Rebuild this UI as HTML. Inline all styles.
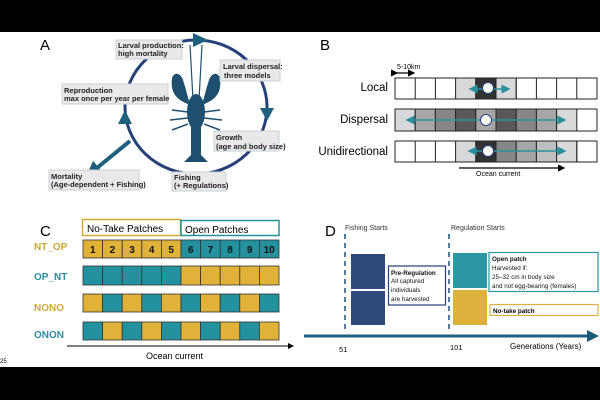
<!DOCTYPE html>
<html><head><meta charset="utf-8"><style>
html,body{margin:0;padding:0;background:#fff}
svg{display:block;font-family:"Liberation Sans",sans-serif}
</style></head><body>
<svg width="600" height="400" viewBox="0 0 600 400" xmlns="http://www.w3.org/2000/svg">
<defs>
<marker id="ah" markerWidth="6" markerHeight="6" refX="5" refY="3" orient="auto"><path d="M0,0 L6,3 L0,6 z" fill="#2a8f9f"/></marker>
<marker id="ak" markerWidth="6" markerHeight="6" refX="5" refY="3" orient="auto"><path d="M0,0 L6,3 L0,6 z" fill="#000"/></marker>
<marker id="am" markerWidth="4" markerHeight="4" refX="2" refY="2" orient="auto"><path d="M0,0 L4,2 L0,4 z" fill="#1d5b78"/></marker>
</defs>
<rect x="0" y="0" width="600" height="32" fill="#000"/>
<rect x="0" y="367" width="600" height="33" fill="#000"/>

<!-- Panel A -->
<text x="40" y="50" font-size="15">A</text>
<ellipse cx="196" cy="107" rx="71" ry="67" fill="none" stroke="#26417a" stroke-width="3"/>
<path d="M193,33 L208,40 L193,47 z" fill="#1f5f7f"/>
<path d="M260,108 L274,108 L267,121 z" fill="#1f5f7f"/>
<path d="M118,124 L132,124 L125,110 z" fill="#1f5f7f"/>
<line x1="130" y1="141" x2="92" y2="172" stroke="#1f5f7f" stroke-width="4" marker-end="url(#am)"/>
<g fill="#1d4f6e" stroke="#1d4f6e">
<path d="M193,100 L190,45 M199,100 L202,45" stroke-width="1.2" fill="none"/>
<ellipse cx="196" cy="112" rx="9" ry="18" stroke="none"/>
<rect x="191" y="125" width="10" height="30" stroke="none"/>
<path d="M184,162 L196,150 L208,162 z" stroke="none"/>
<path d="M190,105 C178,100 170,95 172,78 C174,72 180,72 183,80 L186,90 Z" stroke="none"/>
<path d="M202,105 C214,100 222,95 220,78 C218,72 212,72 209,80 L206,90 Z" stroke="none"/>
<path d="M188,112 L172,110 M188,118 L170,120 M188,124 L172,130 M204,112 L220,110 M204,118 L222,120 M204,124 L220,130" stroke-width="1.5" fill="none"/>
</g>
<g font-size="7.5" font-weight="bold" fill="#222">
<rect x="116" y="40" width="66" height="19" fill="#e9e9e9" stroke="#c9cfd8"/>
<text x="118" y="48">Larval production:</text><text x="118" y="56">high mortality</text>
<rect x="220" y="60" width="60" height="21" fill="#e9e9e9" stroke="#c9cfd8"/>
<text x="223" y="69">Larval dispersal:</text><text x="224" y="78">three models</text>
<rect x="62" y="84" width="106" height="20" fill="#e9e9e9" stroke="#c9cfd8"/>
<text x="64" y="93">Reproduction</text><text x="64" y="101">max once per year per female</text>
<rect x="214" y="131" width="65" height="20" fill="#e9e9e9" stroke="#c9cfd8"/>
<text x="216" y="140">Growth</text><text x="216" y="149">(age and body size)</text>
<rect x="49" y="170" width="90" height="20" fill="#e9e9e9" stroke="#c9cfd8"/>
<text x="51" y="179">Mortality</text><text x="51" y="187">(Age-dependent + Fishing)</text>
<rect x="172" y="172" width="54" height="19" fill="#e9e9e9" stroke="#c9cfd8"/>
<text x="174" y="180">Fishing</text><text x="174" y="188">(+ Regulations)</text>
</g>

<!-- Panel B -->
<text x="320" y="50" font-size="15">B</text>
<text x="397" y="69" font-size="7">5-10km</text>
<line x1="397" y1="73" x2="414" y2="73" stroke="#000" stroke-width="1.2" marker-end="url(#ak)" marker-start="url(#ak)"/>
<g font-size="11.5" text-anchor="end"><text x="388" y="91">Local</text><text x="388" y="123">Dispersal</text><text x="388" y="155">Unidirectional</text></g>
<g stroke="#222" stroke-width="1">
<rect x="395" y="78" width="202" height="21" fill="#fff"/>
<rect x="455.6" y="78" width="20.2" height="21" fill="#d9d9d9"/><rect x="475.8" y="78" width="20.2" height="21" fill="#333"/><rect x="496" y="78" width="20.2" height="21" fill="#d9d9d9"/>
<rect x="395" y="109" width="202" height="22" fill="#fff"/>
<rect x="395" y="109" width="20.2" height="22" fill="#d9d9d9"/><rect x="415.2" y="109" width="20.2" height="22" fill="#a6a6a6"/><rect x="435.4" y="109" width="20.2" height="22" fill="#878787"/><rect x="455.6" y="109" width="20.2" height="22" fill="#595959"/><rect x="475.8" y="109" width="20.2" height="22" fill="#a6a6a6"/><rect x="496" y="109" width="20.2" height="22" fill="#595959"/><rect x="516.2" y="109" width="20.2" height="22" fill="#878787"/><rect x="536.4" y="109" width="20.2" height="22" fill="#a6a6a6"/><rect x="556.6" y="109" width="20.2" height="22" fill="#d9d9d9"/>
<rect x="395" y="141" width="202" height="21" fill="#fff"/>
<rect x="455.6" y="141" width="20.2" height="21" fill="#d9d9d9"/><rect x="475.8" y="141" width="20.2" height="21" fill="#333"/><rect x="496" y="141" width="20.2" height="21" fill="#878787"/><rect x="516.2" y="141" width="20.2" height="21" fill="#a6a6a6"/><rect x="536.4" y="141" width="20.2" height="21" fill="#bfbfbf"/><rect x="556.6" y="141" width="20.2" height="21" fill="#d9d9d9"/>
</g>
<g stroke="#222" stroke-width="1">
<line x1="415.2" y1="78" x2="415.2" y2="99"/><line x1="435.4" y1="78" x2="435.4" y2="99"/><line x1="536.4" y1="78" x2="536.4" y2="99"/><line x1="556.6" y1="78" x2="556.6" y2="99"/><line x1="576.8" y1="78" x2="576.8" y2="99"/><line x1="516.2" y1="78" x2="516.2" y2="99"/>
<line x1="415.2" y1="141" x2="415.2" y2="162"/><line x1="435.4" y1="141" x2="435.4" y2="162"/><line x1="576.8" y1="141" x2="576.8" y2="162"/>
</g>
<g stroke="#2a8f9f" stroke-width="1.5">
<line x1="486" y1="89" x2="470" y2="89" marker-end="url(#ah)"/><line x1="486" y1="89" x2="509" y2="89" marker-end="url(#ah)"/>
<line x1="486" y1="120" x2="407" y2="120" marker-end="url(#ah)"/><line x1="486" y1="120" x2="565" y2="120" marker-end="url(#ah)"/>
<line x1="486" y1="151" x2="469" y2="151" marker-end="url(#ah)"/><line x1="486" y1="151" x2="565" y2="151" marker-end="url(#ah)"/>
</g>
<g fill="#fff" stroke="#26417a" stroke-width="1"><circle cx="488" cy="88" r="5.5"/><circle cx="486" cy="120" r="5.5"/><circle cx="488" cy="151" r="5.5"/></g>
<line x1="459" y1="168" x2="564" y2="168" stroke="#000" stroke-width="1.2" marker-end="url(#ak)"/>
<text x="476" y="176" font-size="7">Ocean current</text>

<!-- Panel C -->
<text x="40" y="236" font-size="15">C</text>
<rect x="82.5" y="219.5" width="98" height="16" fill="#fff" stroke="#d4a935" stroke-width="1.5"/>
<rect x="181" y="220.5" width="98" height="15" fill="#fff" stroke="#2a8f9f" stroke-width="1.5"/>
<text x="87" y="232" font-size="10">No-Take Patches</text>
<text x="185" y="233" font-size="10">Open Patches</text>
<g font-size="10" font-weight="bold">
<text x="34" y="250" fill="#c9a63a">NT_OP</text>
<text x="34" y="280" fill="#2a8f9f">OP_NT</text>
<text x="34" y="311" fill="#d0a93c">NONO</text>
<text x="34" y="338" fill="#2a8f9f">ONON</text>
</g>
<g stroke="#333" stroke-width="0.8">
<rect x="83" y="240" width="19.6" height="18" fill="#e0b23a"/><rect x="102.6" y="240" width="19.6" height="18" fill="#e0b23a"/><rect x="122.2" y="240" width="19.6" height="18" fill="#e0b23a"/><rect x="141.8" y="240" width="19.6" height="18" fill="#e0b23a"/><rect x="161.4" y="240" width="19.6" height="18" fill="#e0b23a"/><rect x="181" y="240" width="19.6" height="18" fill="#24919e"/><rect x="200.6" y="240" width="19.6" height="18" fill="#24919e"/><rect x="220.2" y="240" width="19.6" height="18" fill="#24919e"/><rect x="239.8" y="240" width="19.6" height="18" fill="#24919e"/><rect x="259.4" y="240" width="19.6" height="18" fill="#24919e"/>
<rect x="83" y="266" width="19.6" height="19" fill="#24919e"/><rect x="102.6" y="266" width="19.6" height="19" fill="#24919e"/><rect x="122.2" y="266" width="19.6" height="19" fill="#24919e"/><rect x="141.8" y="266" width="19.6" height="19" fill="#24919e"/><rect x="161.4" y="266" width="19.6" height="19" fill="#24919e"/><rect x="181" y="266" width="19.6" height="19" fill="#e0b23a"/><rect x="200.6" y="266" width="19.6" height="19" fill="#e0b23a"/><rect x="220.2" y="266" width="19.6" height="19" fill="#e0b23a"/><rect x="239.8" y="266" width="19.6" height="19" fill="#e0b23a"/><rect x="259.4" y="266" width="19.6" height="19" fill="#e0b23a"/>
<rect x="83" y="294" width="19.6" height="18" fill="#e0b23a"/><rect x="102.6" y="294" width="19.6" height="18" fill="#24919e"/><rect x="122.2" y="294" width="19.6" height="18" fill="#e0b23a"/><rect x="141.8" y="294" width="19.6" height="18" fill="#24919e"/><rect x="161.4" y="294" width="19.6" height="18" fill="#e0b23a"/><rect x="181" y="294" width="19.6" height="18" fill="#24919e"/><rect x="200.6" y="294" width="19.6" height="18" fill="#e0b23a"/><rect x="220.2" y="294" width="19.6" height="18" fill="#24919e"/><rect x="239.8" y="294" width="19.6" height="18" fill="#e0b23a"/><rect x="259.4" y="294" width="19.6" height="18" fill="#24919e"/>
<rect x="83" y="322" width="19.6" height="18" fill="#24919e"/><rect x="102.6" y="322" width="19.6" height="18" fill="#e0b23a"/><rect x="122.2" y="322" width="19.6" height="18" fill="#24919e"/><rect x="141.8" y="322" width="19.6" height="18" fill="#e0b23a"/><rect x="161.4" y="322" width="19.6" height="18" fill="#24919e"/><rect x="181" y="322" width="19.6" height="18" fill="#e0b23a"/><rect x="200.6" y="322" width="19.6" height="18" fill="#24919e"/><rect x="220.2" y="322" width="19.6" height="18" fill="#e0b23a"/><rect x="239.8" y="322" width="19.6" height="18" fill="#24919e"/><rect x="259.4" y="322" width="19.6" height="18" fill="#e0b23a"/>
</g>
<g font-size="10" font-weight="bold" fill="#111" text-anchor="middle">
<text x="92.8" y="253">1</text><text x="112.4" y="253">2</text><text x="132" y="253">3</text><text x="151.6" y="253">4</text><text x="171.2" y="253">5</text><text x="190.8" y="253">6</text><text x="210.4" y="253">7</text><text x="230" y="253">8</text><text x="249.6" y="253">9</text><text x="269.2" y="253">10</text>
</g>
<line x1="67" y1="346" x2="293" y2="346" stroke="#000" stroke-width="1" marker-end="url(#ak)"/>
<text x="146" y="359" font-size="9">Ocean current</text>
<text x="0" y="363" font-size="6">25</text>

<!-- Panel D -->
<text x="325" y="236" font-size="15">D</text>
<text x="345" y="230" font-size="7" fill="#333">Fishing Starts</text>
<text x="451" y="230" font-size="7" fill="#333">Regulation Starts</text>
<g stroke="#1f4e79" stroke-width="1.5" stroke-dasharray="5,4"><line x1="345" y1="234" x2="345" y2="332"/><line x1="449" y1="234" x2="449" y2="332"/></g>
<rect x="351" y="254" width="34" height="35" fill="#2e4a7d"/>
<rect x="351" y="291" width="34" height="34" fill="#2e4a7d"/>
<rect x="388.5" y="266" width="57" height="39" fill="#fff" stroke="#26417a" stroke-width="1.2"/>
<g font-size="6.3" fill="#111"><text x="391" y="275" font-weight="bold">Pre-Regulation</text><text x="391" y="283">All captured</text><text x="391" y="292">individuals</text><text x="391" y="301">are harvested</text></g>
<rect x="453" y="253" width="34" height="35" fill="#2a97a3"/>
<rect x="453" y="290" width="34" height="35" fill="#deb03c"/>
<rect x="489" y="252.5" width="109" height="39" fill="#fff" stroke="#2a97a3" stroke-width="1.2"/>
<g font-size="6.3" fill="#111"><text x="492" y="261" font-weight="bold">Open patch</text><text x="492" y="270">Harvested if:</text><text x="492" y="279">25–32 cm in body size</text><text x="492" y="288">and not egg-bearing (females)</text></g>
<rect x="490" y="304.5" width="108" height="11" fill="#fff" stroke="#deb03c" stroke-width="1.2"/>
<text x="493" y="313" font-size="6.3" font-weight="bold">No-take patch</text>
<line x1="304" y1="336" x2="593" y2="336" stroke="#1f5f7f" stroke-width="3" marker-end="url(#am)"/>
<text x="339" y="352" font-size="7.5">51</text>
<text x="450" y="350" font-size="7.5">101</text>
<text x="510" y="349" font-size="8">Generations (Years)</text>
</svg>
</body></html>
